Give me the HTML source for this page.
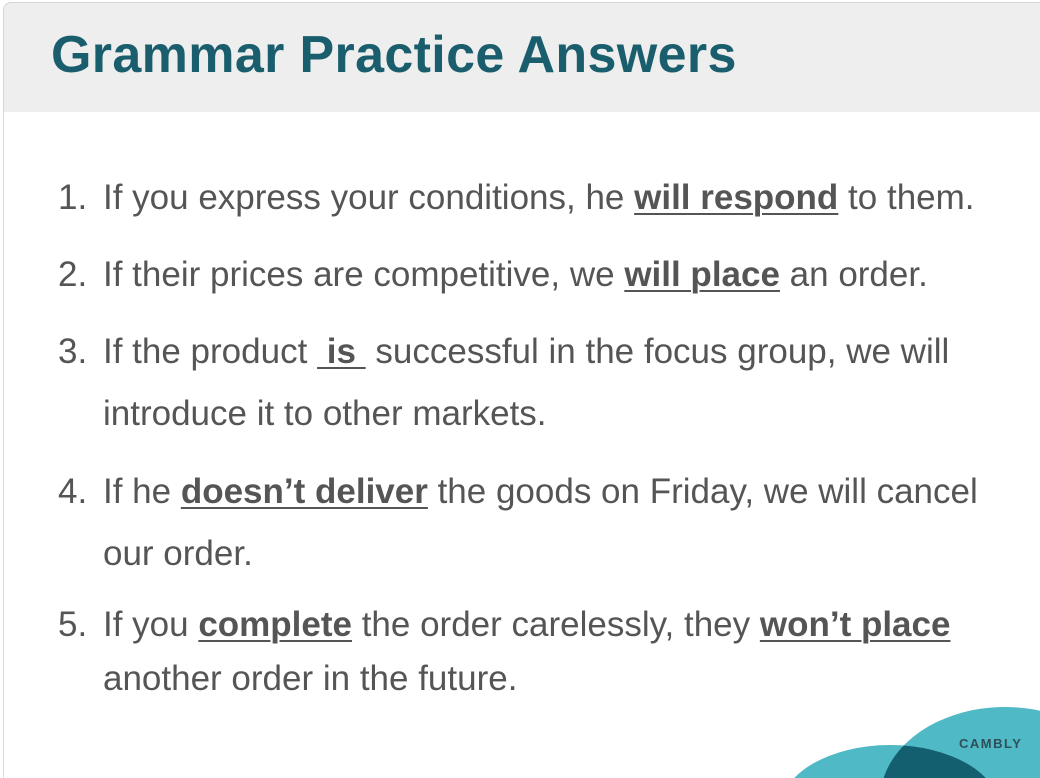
<!DOCTYPE html>
<html style="overflow:hidden"><head><meta charset="utf-8"><style>
body{margin:0;width:1040px;height:778px;background:#fff;overflow:hidden;position:relative;font-family:"Liberation Sans",Arial,sans-serif}
.hdr{position:absolute;left:3px;top:2px;width:1037px;height:109px;background:#eeeeee;border-left:1px solid #d6d6d6;border-top:1px solid #d6d6d6;border-radius:8px 0 0 0}
.side{position:absolute;left:3px;top:111px;width:1px;height:667px;background:#dcdcdc}
h1{position:absolute;left:51px;top:26px;margin:0;font-size:52px;letter-spacing:0.35px;font-weight:bold;color:#1a5e6e;white-space:nowrap;line-height:1.15}
.l{position:absolute;font-size:35px;color:#555;white-space:nowrap;line-height:1}
.n{left:58px}.t{left:103px}
u{font-weight:bold;text-decoration-thickness:2px;text-underline-offset:4px}
.logo{position:absolute;left:0;top:0}
.cam{position:absolute;left:959px;top:736px;font-size:13px;font-weight:bold;letter-spacing:1.5px;color:#2f4f58}
</style></head><body>
<div class="hdr"></div>
<div class="side"></div>
<h1>Grammar Practice Answers</h1>
<div class="l n" style="top:180px">1.</div>
<div class="l t" style="top:180px">If you express your conditions, he <u>will respond</u> to them.</div>
<div class="l n" style="top:257px">2.</div>
<div class="l t" style="top:257px">If their prices are competitive, we <u>will place</u> an order.</div>
<div class="l n" style="top:334px">3.</div>
<div class="l t" style="top:334px">If the product <u>&nbsp;is&nbsp;</u> successful in the focus group, we will</div>
<div class="l t" style="top:396px">introduce it to other markets.</div>
<div class="l n" style="top:474px">4.</div>
<div class="l t" style="top:474px">If he <u>doesn’t deliver</u> the goods on Friday, we will cancel</div>
<div class="l t" style="top:536px">our order.</div>
<div class="l n" style="top:607px">5.</div>
<div class="l t" style="top:607px">If you <u>complete</u> the order carelessly, they <u>won’t place</u></div>
<div class="l t" style="top:661px">another order in the future.</div>
<svg class="logo" width="1040" height="778">
<defs><clipPath id="c1"><ellipse cx="1005" cy="800" rx="125" ry="93"/></clipPath></defs>
<ellipse cx="1005" cy="800" rx="125" ry="93" fill="#4fb9c5"/>
<ellipse cx="890" cy="810" rx="110" ry="65" fill="#4fb9c5"/>
<ellipse cx="890" cy="810" rx="110" ry="65" fill="#135f6f" clip-path="url(#c1)"/>
</svg>
<div class="cam">CAMBLY</div>
</body></html>
